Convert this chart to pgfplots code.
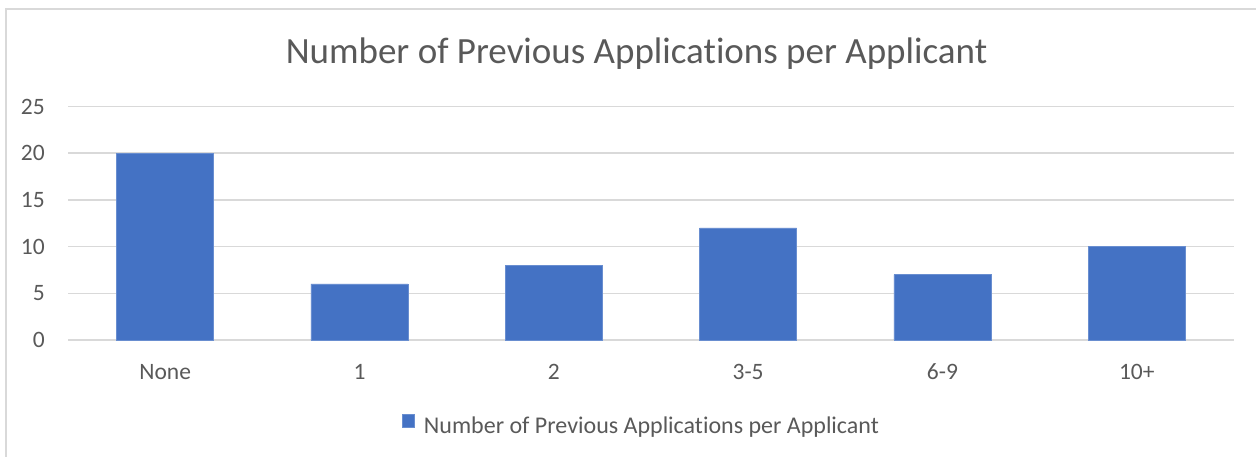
\documentclass[border=0pt]{standalone}
\usepackage{pgfplots}
\pgfplotsset{compat=1.18}
\usepackage{fontspec}
\setmainfont{Carlito}[Ligatures=NoCommon]
\definecolor{barblue}{HTML}{4472C4}
\definecolor{txt}{HTML}{595959}
\definecolor{gridc}{HTML}{D9D9D9}
\begin{document}
\begin{tikzpicture}[x=1pt,y=1pt]
\useasboundingbox (0,0) rectangle (1256,457);
\draw[gridc, line width=1.5pt] (6,-5) -- (6,448) -- (1262,448);
\begin{axis}[
  at={(68pt,117pt)}, anchor=south west,
  scale only axis, width=1166pt, height=233.5pt,
  xmin=-0.5, xmax=5.5, ymin=0, ymax=25,
  ytick={0,5,10,15,20,25},
  xtick={0,1,2,3,4,5},
  xticklabels={None,1,2,3-5,6-9,10+},
  /pgf/number format/assume math mode=true,
  ymajorgrids, grid style={gridc, line width=1.5pt},
  axis line style={draw=none},
  major tick length=0pt,
  tick label style={font=\fontsize{23.5}{28}\selectfont, text=txt},
  yticklabel style={anchor=east, inner sep=0pt, xshift=-23pt},
  xticklabel style={anchor=base, inner sep=0pt, yshift=-40pt},
  title={Number of Previous Applications per Applicant},
  title style={at={(0.4876,1)}, anchor=base, yshift=36.5pt, inner sep=0pt,
    font=\fontsize{37}{44}\selectfont, text=txt},
  legend style={at={(0.2864,0)}, anchor=west, yshift=-84.5pt, draw=none, fill=none,
    inner sep=0pt, nodes={inner sep=0pt}, font=\fontsize{24}{28}\selectfont, text=txt},
  legend image code/.code={\fill[#1] (0pt,-1pt) rectangle (12pt,12pt); \path (21pt,0pt);},
  clip=false,
]
\addplot[ybar, bar width=97pt, fill=barblue, draw=barblue!80!white, line width=0.8pt]
  coordinates {(0,20) (1,6) (2,8) (3,12) (4,7) (5,10)};
\addlegendentry{Number of Previous Applications per Applicant}
\end{axis}
\end{tikzpicture}
\end{document}
